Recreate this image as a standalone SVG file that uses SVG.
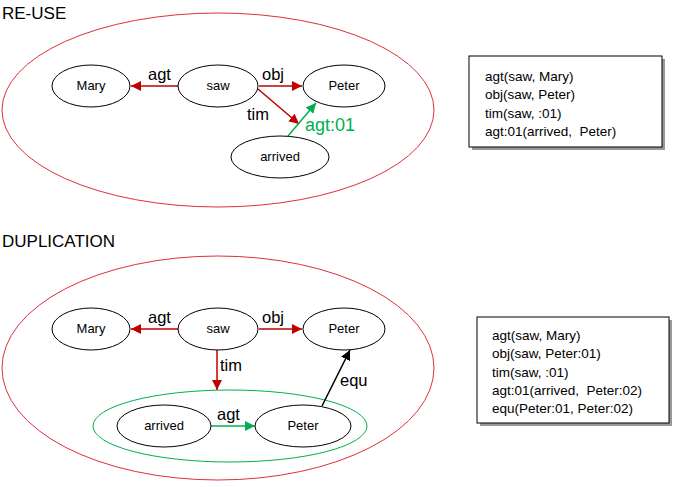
<svg xmlns="http://www.w3.org/2000/svg" width="675" height="487" viewBox="0 0 675 487">
<defs>
<marker id="ar" viewBox="0 0 10 10" refX="10" refY="5" markerWidth="10" markerHeight="10" markerUnits="userSpaceOnUse" orient="auto"><path d="M0,0 L10,5 L0,10 z" fill="#C00000"/></marker>
<marker id="ag" viewBox="0 0 10 10" refX="10" refY="5" markerWidth="10" markerHeight="10" markerUnits="userSpaceOnUse" orient="auto"><path d="M0,0 L10,5 L0,10 z" fill="#00B050"/></marker>
<marker id="ab" viewBox="0 0 10 10" refX="10" refY="5" markerWidth="10" markerHeight="10" markerUnits="userSpaceOnUse" orient="auto"><path d="M0,0 L10,5 L0,10 z" fill="#000"/></marker>
</defs>
<style>
text{font-family:"Liberation Sans",Arial,sans-serif}
.title{font-size:17px;fill:#000}
.node ellipse{fill:#fff;stroke:#000;stroke-width:1}
.node text{font-size:13px;text-anchor:middle}
.outer{fill:none;stroke:#E0303C;stroke-width:1}
.grp{fill:none;stroke:#00B050;stroke-width:1}
.er{stroke:#C00000;stroke-width:1.5;fill:none}
.eg{stroke:#00B050;stroke-width:1.5;fill:none}
.eb{stroke:#000;stroke-width:1.5;fill:none}
.lbl{font-size:16.5px}
.box text{font-size:13.5px;white-space:pre}
</style>
<rect width="675" height="487" fill="#fff"/>
<text class="title" x="2" y="19">RE-USE</text>
<ellipse class="outer" cx="218" cy="110" rx="216" ry="97"/>
<text class="title" x="2" y="247">DUPLICATION</text>
<ellipse class="outer" cx="218" cy="368" rx="216" ry="112"/>
<ellipse class="grp" cx="230" cy="426" rx="137" ry="36"/>

<g id="connectors">
<line class="er" x1="178" y1="86" x2="131" y2="86" marker-end="url(#ar)"/>
<line class="er" x1="259" y1="86" x2="302" y2="86" marker-end="url(#ar)"/>
<line class="er" x1="258" y1="89" x2="299" y2="124" marker-end="url(#ar)"/>
<line class="eg" x1="288" y1="136" x2="316" y2="103" marker-end="url(#ag)"/>
<text class="lbl" x="148" y="80">agt</text>
<text class="lbl" x="262" y="80">obj</text>
<text class="lbl" x="247" y="120">tim</text>
<text class="lbl" x="305" y="131" fill="#00B050" style="font-size:18px">agt:01</text>

<line class="er" x1="178" y1="329" x2="131" y2="329" marker-end="url(#ar)"/>
<line class="er" x1="259" y1="329" x2="302" y2="329" marker-end="url(#ar)"/>
<line class="er" x1="217" y1="350" x2="217" y2="390" marker-end="url(#ar)"/>
<line class="eg" x1="211" y1="426" x2="255" y2="426" marker-end="url(#ag)"/>
<line class="eb" x1="322" y1="406" x2="350" y2="350" marker-end="url(#ab)"/>
<text class="lbl" x="148" y="323">agt</text>
<text class="lbl" x="262" y="323">obj</text>
<text class="lbl" x="220" y="371">tim</text>
<text class="lbl" x="217" y="420">agt</text>
<text class="lbl" x="340" y="386">equ</text>
</g>

<g id="mary1" class="node"><ellipse cx="91" cy="86" rx="39" ry="21"/><text x="91" y="90">Mary</text></g>
<g id="saw1" class="node"><ellipse cx="218" cy="86" rx="40" ry="21"/><text x="218" y="90">saw</text></g>
<g id="peter1" class="node"><ellipse cx="344" cy="86" rx="41" ry="21"/><text x="344" y="90">Peter</text></g>
<g id="arrived1" class="node"><ellipse cx="280" cy="157" rx="49" ry="21"/><text x="280" y="161">arrived</text></g>

<g id="mary2" class="node"><ellipse cx="91" cy="329" rx="39" ry="21"/><text x="91" y="333">Mary</text></g>
<g id="saw2" class="node"><ellipse cx="218" cy="329" rx="40" ry="21"/><text x="218" y="333">saw</text></g>
<g id="peter2" class="node"><ellipse cx="344" cy="329" rx="41" ry="21"/><text x="344" y="333">Peter</text></g>
<g id="arrived2" class="node"><ellipse cx="164" cy="426" rx="47" ry="21"/><text x="164" y="430">arrived</text></g>
<g id="peter3" class="node"><ellipse cx="303" cy="426" rx="48" ry="21"/><text x="303" y="430">Peter</text></g>

<g id="box1" class="box">
<rect x="472" y="59" width="193" height="91" fill="#999"/>
<rect x="469" y="56" width="193" height="91" fill="#fff" stroke="#000"/>
<text x="485" y="81">agt(saw, Mary)</text>
<text x="485" y="99">obj(saw, Peter)</text>
<text x="485" y="118">tim(saw, :01)</text>
<text x="485" y="136">agt:01(arrived,  Peter)</text>
</g>
<g id="box2" class="box">
<rect x="480" y="320" width="192" height="106" fill="#999"/>
<rect x="477" y="317" width="192" height="106" fill="#fff" stroke="#000"/>
<text x="492" y="340">agt(saw, Mary)</text>
<text x="492" y="358">obj(saw, Peter:01)</text>
<text x="492" y="377">tim(saw, :01)</text>
<text x="492" y="395">agt:01(arrived,  Peter:02)</text>
<text x="492" y="413">equ(Peter:01, Peter:02)</text>
</g>
</svg>
